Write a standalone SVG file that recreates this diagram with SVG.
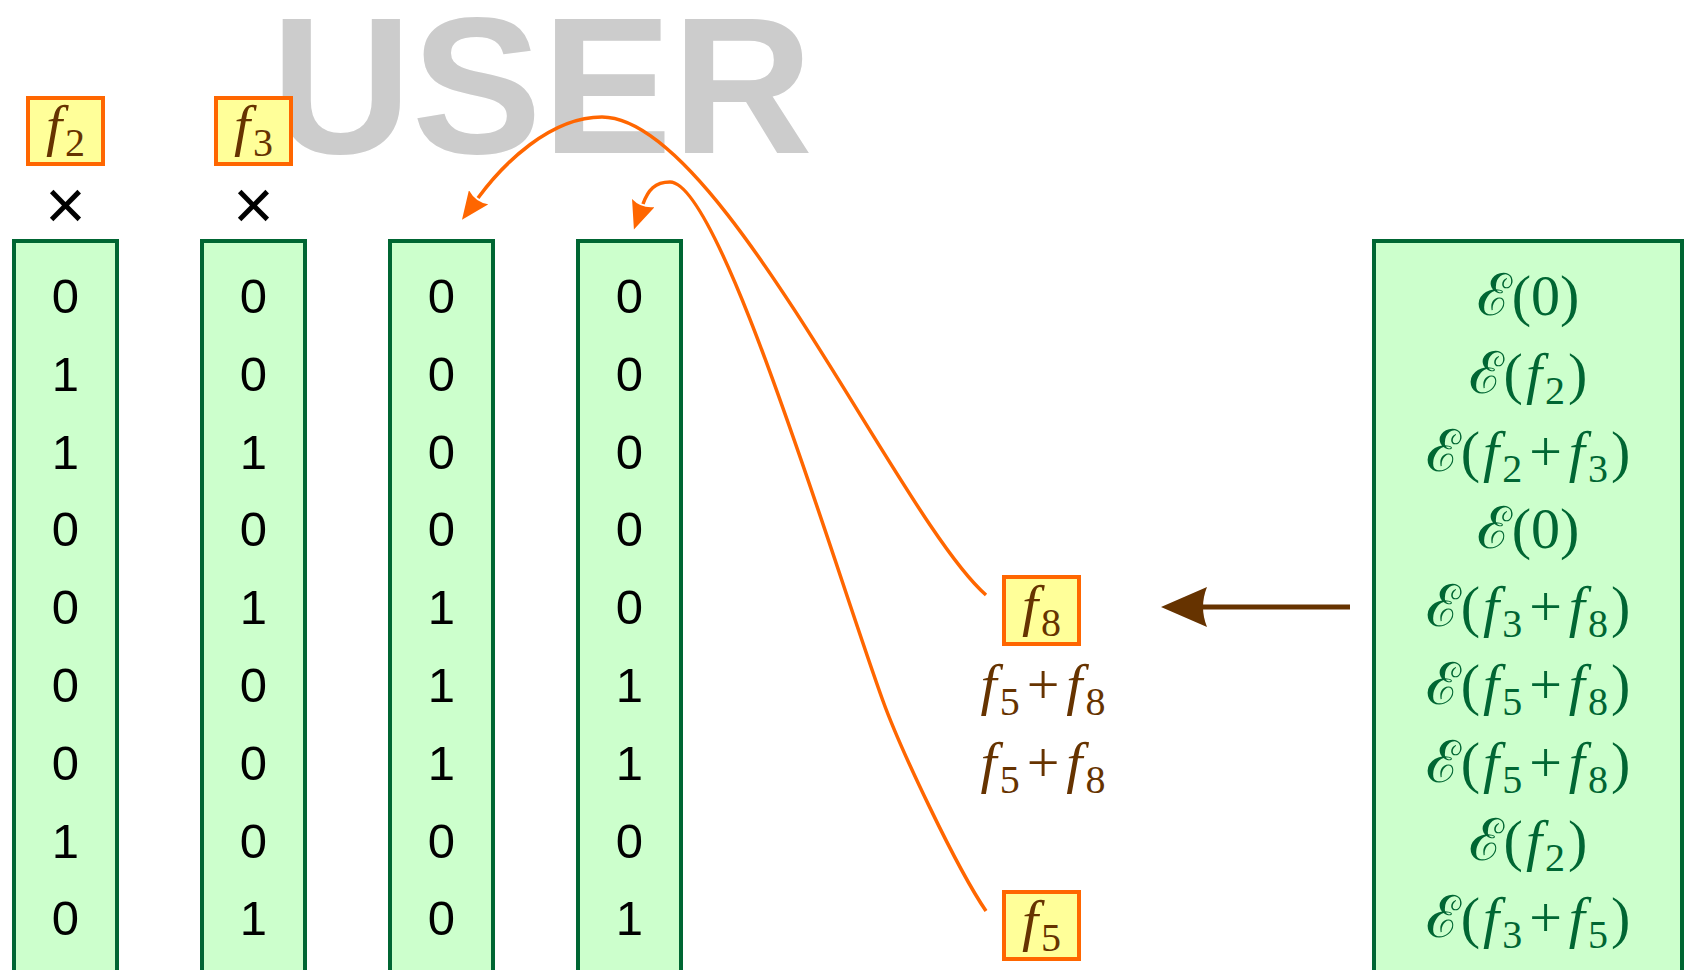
<svg xmlns="http://www.w3.org/2000/svg" width="1694" height="970" viewBox="0 0 1694 970">
<style>
.col{fill:#CCFFCC;stroke:#006633;stroke-width:4}
.ob{fill:#FFFF99;stroke:#FF6600;stroke-width:4}
.d{font-family:"Liberation Sans",Arial,sans-serif;font-size:49px;fill:#000;text-anchor:middle}
.m{font-family:"Liberation Serif","DejaVu Serif",serif;text-anchor:middle;font-size:58px}
.g{fill:#006633}
.b{fill:#663300}
.i{font-style:italic}
.s{font-size:40px}
.user{font-family:"Liberation Sans",Arial,sans-serif;font-weight:bold;font-size:195px;fill:#CCCCCC}
.x{font-family:"Liberation Sans",Arial,sans-serif;font-size:70px;text-anchor:middle;fill:#000}
.cur{fill:none;stroke:#FF6600;stroke-width:3.5}
</style>
<defs>
<marker id="oa" markerUnits="userSpaceOnUse" markerWidth="30" markerHeight="24" viewBox="0 0 30 24" refX="1" refY="12" orient="auto">
<path d="M0,0 L28,12 L0,24 Q6,12 0,0Z" fill="#FF6600"/>
</marker>
</defs>
<text class="user" x="271" y="153">USER</text>

<g id="col1">
<rect class="col" x="14" y="241" width="103" height="740"/>
<text class="d" x="65.5" y="313">0</text><text class="d" x="65.5" y="391">1</text><text class="d" x="65.5" y="469">1</text><text class="d" x="65.5" y="546">0</text><text class="d" x="65.5" y="624">0</text><text class="d" x="65.5" y="702">0</text><text class="d" x="65.5" y="780">0</text><text class="d" x="65.5" y="858">1</text><text class="d" x="65.5" y="935">0</text>
</g>
<g id="col2">
<rect class="col" x="202" y="241" width="103" height="740"/>
<text class="d" x="253.5" y="313">0</text><text class="d" x="253.5" y="391">0</text><text class="d" x="253.5" y="469">1</text><text class="d" x="253.5" y="546">0</text><text class="d" x="253.5" y="624">1</text><text class="d" x="253.5" y="702">0</text><text class="d" x="253.5" y="780">0</text><text class="d" x="253.5" y="858">0</text><text class="d" x="253.5" y="935">1</text>
</g>
<g id="col3">
<rect class="col" x="390" y="241" width="103" height="740"/>
<text class="d" x="441.5" y="313">0</text><text class="d" x="441.5" y="391">0</text><text class="d" x="441.5" y="469">0</text><text class="d" x="441.5" y="546">0</text><text class="d" x="441.5" y="624">1</text><text class="d" x="441.5" y="702">1</text><text class="d" x="441.5" y="780">1</text><text class="d" x="441.5" y="858">0</text><text class="d" x="441.5" y="935">0</text>
</g>
<g id="col4">
<rect class="col" x="578" y="241" width="103" height="740"/>
<text class="d" x="629.5" y="313">0</text><text class="d" x="629.5" y="391">0</text><text class="d" x="629.5" y="469">0</text><text class="d" x="629.5" y="546">0</text><text class="d" x="629.5" y="624">0</text><text class="d" x="629.5" y="702">1</text><text class="d" x="629.5" y="780">1</text><text class="d" x="629.5" y="858">0</text><text class="d" x="629.5" y="935">1</text>
</g>

<g id="enc">
<rect class="col" x="1374" y="241" width="308" height="740"/>
<text class="m g" x="1528" y="315">ℰ(0)</text>
<text class="m g" x="1528" y="393">ℰ(<tspan class="i" dx="3">f</tspan><tspan class="s" dx="3" dy="11">2</tspan><tspan dx="3" dy="-11">)</tspan></text>
<text class="m g" x="1528" y="471">ℰ(<tspan class="i" dx="3">f</tspan><tspan class="s" dx="3" dy="11">2</tspan><tspan dx="7" dy="-11">+</tspan><tspan class="i" dx="7">f</tspan><tspan class="s" dx="3" dy="11">3</tspan><tspan dx="3" dy="-11">)</tspan></text>
<text class="m g" x="1528" y="548">ℰ(0)</text>
<text class="m g" x="1528" y="626">ℰ(<tspan class="i" dx="3">f</tspan><tspan class="s" dx="3" dy="11">3</tspan><tspan dx="7" dy="-11">+</tspan><tspan class="i" dx="7">f</tspan><tspan class="s" dx="3" dy="11">8</tspan><tspan dx="3" dy="-11">)</tspan></text>
<text class="m g" x="1528" y="704">ℰ(<tspan class="i" dx="3">f</tspan><tspan class="s" dx="3" dy="11">5</tspan><tspan dx="7" dy="-11">+</tspan><tspan class="i" dx="7">f</tspan><tspan class="s" dx="3" dy="11">8</tspan><tspan dx="3" dy="-11">)</tspan></text>
<text class="m g" x="1528" y="782">ℰ(<tspan class="i" dx="3">f</tspan><tspan class="s" dx="3" dy="11">5</tspan><tspan dx="7" dy="-11">+</tspan><tspan class="i" dx="7">f</tspan><tspan class="s" dx="3" dy="11">8</tspan><tspan dx="3" dy="-11">)</tspan></text>
<text class="m g" x="1528" y="860">ℰ(<tspan class="i" dx="3">f</tspan><tspan class="s" dx="3" dy="11">2</tspan><tspan dx="3" dy="-11">)</tspan></text>
<text class="m g" x="1528" y="937">ℰ(<tspan class="i" dx="3">f</tspan><tspan class="s" dx="3" dy="11">3</tspan><tspan dx="7" dy="-11">+</tspan><tspan class="i" dx="7">f</tspan><tspan class="s" dx="3" dy="11">5</tspan><tspan dx="3" dy="-11">)</tspan></text>
</g>

<g id="f2">
<rect class="ob" x="28" y="98" width="75" height="66"/>
<text class="m b" x="65.5" y="145"><tspan class="i">f</tspan><tspan class="s" dx="3" dy="11">2</tspan></text>
<text class="x" x="65.5" y="229">×</text>
</g>
<g id="f3">
<rect class="ob" x="216" y="98" width="75" height="66"/>
<text class="m b" x="253.5" y="145"><tspan class="i">f</tspan><tspan class="s" dx="3" dy="11">3</tspan></text>
<text class="x" x="253.5" y="229">×</text>
</g>
<g id="f8">
<rect class="ob" x="1004" y="577" width="75" height="67"/>
<text class="m b" x="1041.5" y="625"><tspan class="i">f</tspan><tspan class="s" dx="3" dy="11">8</tspan></text>
</g>
<g id="sums">
<text class="m b" x="1043" y="704"><tspan class="i">f</tspan><tspan class="s" dx="3" dy="11">5</tspan><tspan dx="7" dy="-11">+</tspan><tspan class="i" dx="7">f</tspan><tspan class="s" dx="3" dy="11">8</tspan></text>
<text class="m b" x="1043" y="782"><tspan class="i">f</tspan><tspan class="s" dx="3" dy="11">5</tspan><tspan dx="7" dy="-11">+</tspan><tspan class="i" dx="7">f</tspan><tspan class="s" dx="3" dy="11">8</tspan></text>
</g>
<g id="f5">
<rect class="ob" x="1004" y="892" width="75" height="67"/>
<text class="m b" x="1041.5" y="940"><tspan class="i">f</tspan><tspan class="s" dx="3" dy="11">5</tspan></text>
</g>

<g id="connectors">
<path class="cur" d="M986,595 C900,520 720,117 602,117 C550,117 503,164 478,198" marker-end="url(#oa)"/>
<path class="cur" d="M986,911 C956,867 900,748 883,701 C832,560 720,182 670,182 C655,182 648,190 643,204" marker-end="url(#oa)"/>
<line x1="1350" y1="607" x2="1200" y2="607" stroke="#663300" stroke-width="5"/>
<path d="M1161,607 L1207,587 Q1199,607 1207,627 Z" fill="#663300"/>
</g>
</svg>
